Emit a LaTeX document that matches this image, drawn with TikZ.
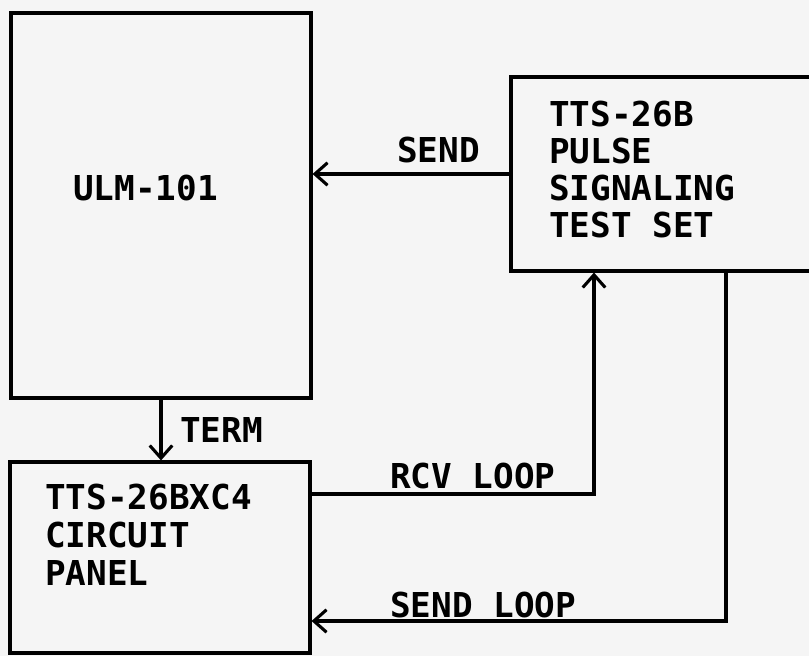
\documentclass[tikz,border=0pt]{standalone}
\usepackage{fontspec}
\setmainfont{DejaVu Sans Mono}
\usetikzlibrary{arrows.meta,fit}
\tikzset{
  box/.style={draw,line width=2.2pt,inner sep=0pt},
  lbl/.style={anchor=base west,inner sep=0pt,align=left,font=\bfseries\fontsize{24.4pt}{26.1pt}\selectfont},
  arr/.style={line width=2.2pt,-{Straight Barb[length=9pt,width=16pt,line width=2.2pt]}}
}
\begin{document}
\begin{tikzpicture}[x=0.025cm,y=-0.025cm]
\useasboundingbox (0,0) rectangle (809,656);
\clip (0,0) rectangle (809,656);
\fill[black!4] (0,0) rectangle (809,656);
% boxes
\node[box,fit={(11,13) (311,398)}] (ulm) {};
\node[box,fit={(511,77) (815,271)}] (tts) {};
\node[box,fit={(10,462) (310,653)}] (ckt) {};
\node[lbl] (ulmtxt) at (73,200) {ULM-101};
% multi-line texts sit on their last baseline
\node[lbl] (ttstxt) at (549,237) {TTS-26B\\PULSE\\SIGNALING\\TEST SET};
\node[lbl,font=\bfseries\fontsize{24.4pt}{27pt}\selectfont] (ckttxt) at (45,585) {TTS-26BXC4\\CIRCUIT\\PANEL};
% connections
\coordinate (rcv) at (594,494);
\coordinate (sndl) at (726,621);
\draw[arr] (tts.west) -- (tts.west -| ulm.east);
\draw[arr] (ulm.south) -- (ulm.south |- ckt.north);
\draw[arr] (rcv -| ckt.east) -- (rcv) -- (rcv |- tts.south);
\draw[arr] (sndl |- tts.south) -- (sndl) -- (sndl -| ckt.east);
\node[lbl] (sendlbl) at (397,163) {SEND};
\node[lbl] (termlbl) at (180,442) {TERM};
\node[lbl] (rcvlbl) at (390,488) {RCV LOOP};
\node[lbl] (sndllbl) at (390,617) {SEND LOOP};
\end{tikzpicture}
\end{document}
